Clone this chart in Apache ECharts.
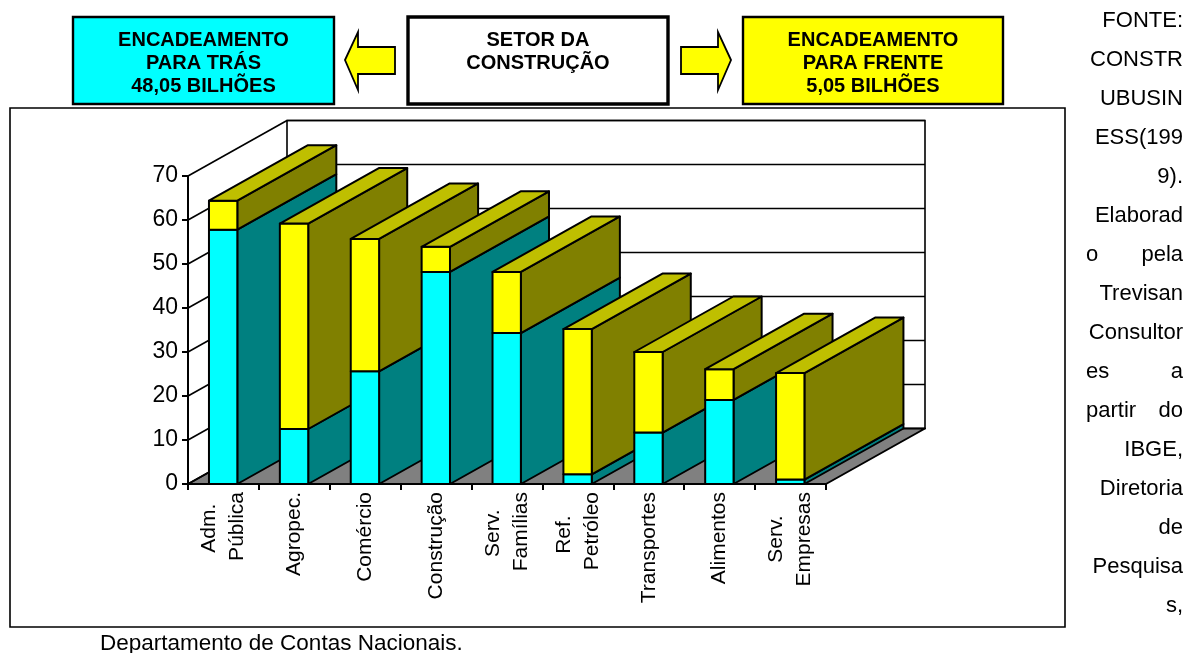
<!DOCTYPE html>
<html><head><meta charset="utf-8">
<style>html,body{margin:0;padding:0;background:#fff}#c{width:1188px;height:653px}</style>
<script src="https://cdn.jsdelivr.net/npm/echarts@6/dist/echarts.min.js"></script>
</head><body><div id="c"></div>
<script>
const categories = ['Adm.\nPública','Agropec.','Comércio','Construção','Serv.\nFamílias','Ref.\nPetróleo','Transportes','Alimentos','Serv.\nEmpresas'];
const paraTras = [57.8,12.5,25.6,48.2,34.3,2.2,11.7,19.1,1.0];
const paraFrente = [6.6,46.7,30.1,5.7,13.9,33.0,18.3,7.0,24.2];
const yTicks = [0,10,20,30,40,50,60,70];
const sourceLines = [['FONTE:'],['CONSTR'],['UBUSIN'],['ESS(199'],['9).'],['Elaborad'],['o','pela'],['Trevisan'],['Consultor'],['es','a'],['partir','do'],['IBGE,'],['Diretoria'],['de'],['Pesquisa'],['s,']];
const footerText = 'Departamento de Contas Nacionais.';
const boxLeft = 'ENCADEAMENTO\nPARA TRÁS\n48,05 BILHÕES';
const boxMid = 'SETOR DA\nCONSTRUÇÃO';
const boxRight = 'ENCADEAMENTO\nPARA FRENTE\n5,05 BILHÕES';

const FONT = '"Liberation Sans", Arial, sans-serif';
const DX = 99, DY = -55.5, LW = 2;
const C = {cyan:['#00ffff','#008080'], yellow:['#ffff00','#808000']};
const stackRows = [];
categories.forEach((c,i)=>{
  stackRows.push([i,0,paraTras[i],'cyan',0]);
  stackRows.push([i,paraTras[i],paraTras[i]+paraFrente[i],'yellow',1]);
});
const ln = {stroke:'#000',lineWidth:LW,lineJoin:'round'};
const thin = {stroke:'#000',lineWidth:1.6};
function poly(points,fill){return {type:'polygon',shape:{points},style:Object.assign({fill},ln)};}

function renderWall(params,api){
  const v = api.value(0);
  const s = api.coord([0,v]);
  const band = api.size([1,0])[0];
  const left = s[0]-band/2, right = left+band*categories.length;
  const y = s[1];
  const children = [];
  if(params.dataIndex===0){
    const top = api.coord([0,yTicks[yTicks.length-1]])[1];
    children.push({type:'polygon',shape:{points:[[left+DX,y+DY],[right+DX,y+DY],[right+DX,top+DY],[left+DX,top+DY]]},style:Object.assign({fill:'#fff'},thin)});
    children.push(poly([[left,y],[right,y],[right+DX,y+DY],[left+DX,y+DY]],'#808080'));
  } else {
    children.push({type:'line',shape:{x1:left+DX,y1:y+DY,x2:right+DX,y2:y+DY},style:thin});
  }
  children.push({type:'line',shape:{x1:left,y1:y,x2:left+DX,y2:y+DY},style:thin});
  return {type:'group',children};
}
function renderBar(params,api){
  const i = api.value(0), b = api.coord([i,api.value(1)]), t = api.coord([i,api.value(2)]);
  const w = api.size([1,0])[0]*0.4;
  const col = C[stackRows[params.dataIndex][3]];
  const isTop = api.value(4)===1;
  const x0 = b[0]-w/2-0.3, x1 = x0+w, yb = b[1], yt = t[1];
  const ch = [
    poly([[x1,yb],[x1+DX,yb+DY],[x1+DX,yt+DY],[x1,yt]],col[1]),
    poly([[x0,yb],[x1,yb],[x1,yt],[x0,yt]],col[0])
  ];
  if(isTop) ch.push(poly([[x0,yt],[x1,yt],[x1+DX,yt+DY],[x0+DX,yt+DY]],'#bfbf00'));
  return {type:'group',children:ch};
}
function box(x,y,w,h,fill,lw,text){
  return [
    {type:'rect',shape:{x,y,width:w,height:h},style:{fill,stroke:'#000',lineWidth:lw},z:5},
    {type:'text',x:x+w/2,y:y+h/2+2.5,z:6,style:{text,fill:'#000',font:'bold 20px '+FONT,align:'center',verticalAlign:'middle',lineHeight:23}}
  ];
}
function arrow(pts){return {type:'polygon',shape:{points:pts},style:{fill:'#ffff00',stroke:'#000',lineWidth:1.8},z:5};}
const graphics = [
  {type:'rect',shape:{x:10,y:108,width:1055,height:519},style:{fill:'none',stroke:'#000',lineWidth:1.6},z:1},
  ...box(73,17,261,87,'#00ffff',2.4,boxLeft),
  ...box(408,17,260,87,'#ffffff',3.4,boxMid+'\n '),
  ...box(743,17,260,87,'#ffff00',2.4,boxRight),
  arrow([[345,60],[358,32],[358,47],[395,47],[395,74],[358,74],[358,90]]),
  arrow([[731,60],[718,32],[718,47],[681,47],[681,74],[718,74],[718,90]]),
  {type:'text',x:100,y:643.5,z:6,style:{text:footerText,fill:'#000',font:'22.5px '+FONT,align:'left',verticalAlign:'middle'}}
];
sourceLines.forEach((words,i)=>{
  const y = 21+i*39;
  const last = words[words.length-1];
  graphics.push({type:'text',x:1183,y,z:6,style:{text:last,fill:'#000',font:'22px '+FONT,align:'right',verticalAlign:'middle'}});
  if(words.length>1) graphics.push({type:'text',x:1086,y,z:6,style:{text:words[0],fill:'#000',font:'22px '+FONT,align:'left',verticalAlign:'middle'}});
});

const measurer = document.createElement('canvas').getContext('2d');
measurer.font = '21px "Liberation Sans"';
function padLabel(v){
  const parts = v.split('\n');
  if(parts.length<2) return v;
  const diff = measurer.measureText(parts[1]).width-measurer.measureText(parts[0]).width;
  const n = Math.round(diff/2/measurer.measureText(' ').width+0.2);
  return parts[0]+' '.repeat(n)+'\n'+parts[1];
}
const chart = echarts.init(document.getElementById('c'),null,{renderer:'canvas'});
chart.setOption({
  animation:false,
  backgroundColor:'#fff',
  grid:{left:188,top:176,width:638,height:308},
  graphic:graphics,
  xAxis:{type:'category',data:categories,boundaryGap:true,z:10,
    axisLine:{show:true,lineStyle:{color:'#000',width:2}},
    axisTick:{show:true,length:6,lineStyle:{color:'#000',width:2}},
    axisLabel:{interval:0,rotate:90,margin:8,fontFamily:'Liberation Sans',fontSize:21,color:'#000',lineHeight:28,align:'right',verticalAlign:'middle',formatter:padLabel,hideOverlap:false}},
  yAxis:{type:'value',min:0,max:70,interval:10,z:10,
    axisLine:{show:true,lineStyle:{color:'#000',width:2}},
    axisTick:{show:true,length:6,lineStyle:{color:'#000',width:2}},
    axisLabel:{margin:10,fontFamily:'Liberation Sans',fontSize:23,color:'#000',padding:[3,0,0,0]},
    splitLine:{show:false}},
  series:[
    {type:'custom',coordinateSystem:'cartesian2d',z:2,silent:true,renderItem:renderWall,data:yTicks.map(v=>[v]),encode:{y:0},clip:false},
    {type:'custom',coordinateSystem:'cartesian2d',z:3,silent:true,renderItem:renderBar,data:stackRows,encode:{x:0,y:[1,2]},clip:false}
  ]
});
</script></body></html>
